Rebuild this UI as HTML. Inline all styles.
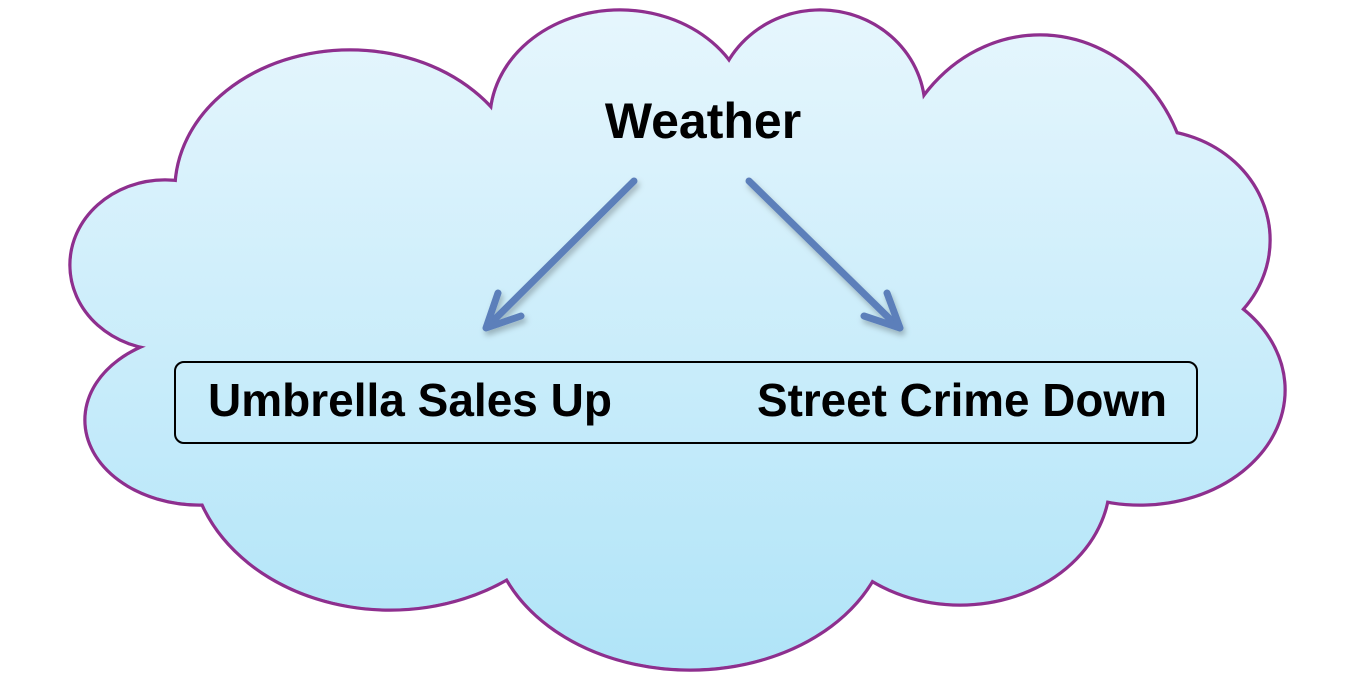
<!DOCTYPE html>
<html><head><meta charset="utf-8"><style>
html,body{margin:0;padding:0;background:#fff;}
svg{display:block}
text{font-family:"Liberation Sans",Arial,sans-serif;font-weight:bold;font-size:46px;fill:#000}
</style></head><body>
<svg width="1352" height="688" viewBox="0 0 1352 688" xmlns="http://www.w3.org/2000/svg">
<defs>
<linearGradient id="g" gradientUnits="userSpaceOnUse" x1="0" y1="10" x2="0" y2="670">
<stop offset="0" stop-color="#e6f6fd"/><stop offset="1" stop-color="#b0e4f8"/>
</linearGradient>
<filter id="sh" x="-20%" y="-20%" width="140%" height="140%"><feDropShadow dx="2" dy="4" stdDeviation="3" flood-color="#000" flood-opacity="0.25"/></filter>
</defs>
<g id="lobes" stroke="#8e2f8e" stroke-width="3.5" fill="url(#g)">
<ellipse cx="165" cy="265" rx="95" ry="85"/>
<ellipse cx="350" cy="190" rx="175" ry="140"/>
<ellipse cx="620" cy="120" rx="130" ry="110"/>
<ellipse cx="820" cy="110" rx="105" ry="100"/>
<ellipse cx="1040" cy="200" rx="150" ry="165"/>
<ellipse cx="1150" cy="240" rx="120" ry="110"/>
<ellipse cx="1140" cy="390" rx="145" ry="115"/>
<ellipse cx="960" cy="480" rx="150" ry="125"/>
<ellipse cx="690" cy="520" rx="200" ry="150"/>
<ellipse cx="390" cy="450" rx="200" ry="160"/>
<ellipse cx="200" cy="420" rx="115" ry="85"/>
</g>
<g fill="url(#g)">
<ellipse cx="165" cy="265" rx="93.5" ry="83.5"/>
<ellipse cx="350" cy="190" rx="173.5" ry="138.5"/>
<ellipse cx="620" cy="120" rx="128.5" ry="108.5"/>
<ellipse cx="820" cy="110" rx="103.5" ry="98.5"/>
<ellipse cx="1040" cy="200" rx="148.5" ry="163.5"/>
<ellipse cx="1150" cy="240" rx="118.5" ry="108.5"/>
<ellipse cx="1140" cy="390" rx="143.5" ry="113.5"/>
<ellipse cx="960" cy="480" rx="148.5" ry="123.5"/>
<ellipse cx="690" cy="520" rx="198.5" ry="148.5"/>
<ellipse cx="390" cy="450" rx="198.5" ry="158.5"/>
<ellipse cx="200" cy="420" rx="113.5" ry="83.5"/>
<ellipse cx="650" cy="330" rx="450" ry="220"/>
</g>
<text x="703" y="138" text-anchor="middle" style="font-size:50px">Weather</text>
<g stroke="#5b7fba" stroke-width="7" stroke-linecap="round" stroke-linejoin="round" fill="none" filter="url(#sh)">
<line x1="634" y1="181" x2="490" y2="324"/>
<polyline points="498,293 486,328 521,316"/>
<line x1="749" y1="181" x2="895" y2="324"/>
<polyline points="887,293 900,328 864,316"/>
</g>
<rect x="175" y="362" width="1022" height="81" rx="9" fill="none" stroke="#000" stroke-width="2"/>
<text x="208" y="416" textLength="404" lengthAdjust="spacingAndGlyphs">Umbrella Sales Up</text>
<text x="757" y="416" textLength="410" lengthAdjust="spacingAndGlyphs">Street Crime Down</text>
</svg>
</body></html>
